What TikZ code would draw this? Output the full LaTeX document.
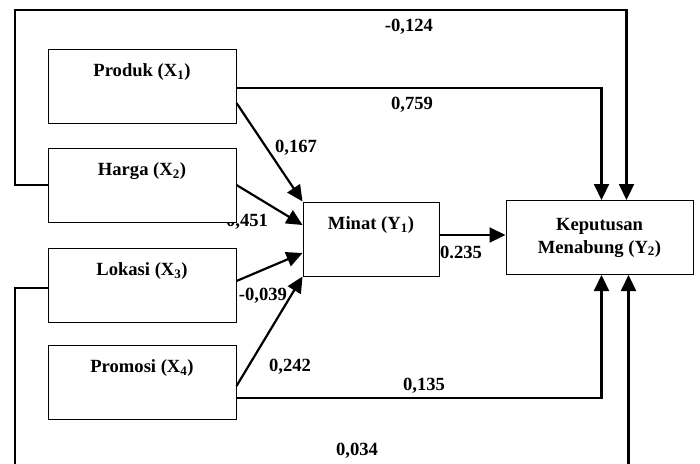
\documentclass[tikz,border=0pt]{standalone}
\usepackage{fontspec}
\setmainfont{Liberation Serif}
\usetikzlibrary{arrows.meta}

\tikzset{
  varbox/.style={draw,fill=white,line width=1pt,minimum width=188pt,minimum height=74pt,inner sep=0pt},
  boxtext/.style={label={[anchor=base,yshift=-28pt]north:#1}},
  conn/.style={line width=2.2pt,-{Triangle[length=16pt,width=15pt]}},
  coef/.style={inner sep=0pt},
}

\begin{document}
\begin{tikzpicture}[x=1pt,y=-1pt,font=\fontsize{18.6}{23}\selectfont\bfseries]
  \useasboundingbox (0,0) rectangle (700,463);
  \clip (0,0) rectangle (700,463);
  % path coefficients
  \node[coef] (c1) at (409,27) {-0,124};
  \node[coef] (c2) at (412,105) {0,759};
  \node[coef] (c3) at (296,148) {0,167};
  \node[coef] (c4) at (247,222) {0,451};
  \node[coef] (c5) at (263,296) {-0,039};
  \node[coef] (c6) at (290,367) {0,242};
  \node[coef] (c7) at (424,386) {0,135};
  \node[coef] (c8) at (357,451) {0,034};
  \node[coef] (c9) at (461,252) {0.235};
  % variables
  \node[varbox,boxtext={Produk (X\textsubscript{1})}] (x1) at (142,86) {};
  \node[varbox,boxtext={Harga (X\textsubscript{2})}] (x2) at (142,185) {};
  \node[varbox,boxtext={Lokasi (X\textsubscript{3})}] (x3) at (142,285) {};
  \node[varbox,boxtext={Promosi (X\textsubscript{4})}] (x4) at (142,382) {};
  \node[varbox,minimum width=136pt,boxtext={Minat (Y\textsubscript{1})}] (y1) at (371,239) {};
  \node[varbox,minimum width=187pt,align=center] (y2) at (599.5,237.5) {Keputusan\\Menabung (Y\textsubscript{2})};
  % paths to Minat
  \draw[conn] ([yshift=-17pt]x1.east) -- (y1.north west);
  \draw[conn] (x2.east) -- ([yshift=14pt]y1.west);
  \draw[conn] ([yshift=4pt]x3.east) -- ([yshift=-14pt]y1.west);
  \draw[conn] ([yshift=-4pt]x4.east) -- (y1.south west);
  % paths to Keputusan
  \coordinate (m) at ([yshift=4pt]y1.east);
  \draw[conn] (m) -- (m -| y2.west);
  \draw[conn] ([yshift=-2pt]x1.east) -| ([xshift=2pt]y2.north);
  \draw[conn] ([yshift=-16pt]x4.east) -| ([xshift=2pt]y2.south);
  \coordinate (tl) at (15,10);
  \coordinate (bl) at (15,480);
  \draw[conn] (x2.west) -| (tl) -| ([xshift=27pt]y2.north);
  \draw[conn] ([yshift=-3pt]x3.west) -| (bl) -| ([xshift=29pt]y2.south);
\end{tikzpicture}
\end{document}
